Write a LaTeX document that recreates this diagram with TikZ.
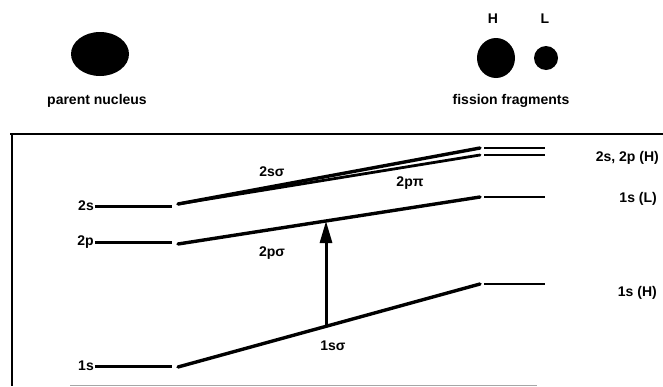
\documentclass[tikz,border=0pt]{standalone}
\usepackage{fontspec}
\setmainfont{Liberation Sans}
\usetikzlibrary{arrows.meta,shapes.geometric}
\tikzset{
  lbl/.style={font=\bfseries\fontsize{14}{16}\selectfont, inner sep=1pt},
  level/.style={line width=3pt},
  corr/.style={line width=3.4pt, line cap=round},
  frag/.style={line width=2.4pt},
  blob/.style={fill=black, draw=none},
}
\begin{document}
\begin{tikzpicture}[x=1pt, y=-1pt]
\useasboundingbox (0,0) rectangle (663,386);

% nuclei
\node[blob, ellipse, minimum width=58pt, minimum height=44pt] (parent) at (100,54) {};
\node[lbl] (parentlbl) at (97,101) {parent nucleus};
\node[blob, ellipse, minimum width=38pt, minimum height=40pt] (heavy) at (496,58) {};
\node[blob, circle, minimum size=24pt] (light) at (546,58) {};
\node[lbl] (hlbl) at (493,19) {H};
\node[lbl] (llbl) at (545,19) {L};
\node[lbl] (fraglbl) at (511,101) {fission fragments};

% frame
\draw[line width=2.4pt] (10,134) -- (663,134);
\draw[line width=2pt] (12,134) -- (12,386);
\draw[line width=1pt, gray!70] (70,385) -- (537,385);

% atomic levels of the parent
\coordinate (s2a) at (95,206);  \coordinate (s2b) at (172,206);
\coordinate (p2a) at (95,242);  \coordinate (p2b) at (172,242);
\coordinate (s1a) at (95,366);  \coordinate (s1b) at (172,366);
\draw[level] (s2a) -- (s2b);
\draw[level] (p2a) -- (p2b);
\draw[level] (s1a) -- (s1b);
\node[lbl, anchor=east] (l2s) at (s2a) {2s};
\node[lbl, anchor=east] (l2p) at (p2a) {2p};
\node[lbl, anchor=east] (l1s) at (s1a) {1s};

% molecular orbital correlation lines
\coordinate (m2s0) at (178,204); \coordinate (m2s1) at (480,148);
\coordinate (mpi0) at (178,204); \coordinate (mpi1) at (480,155);
\coordinate (mps0) at (178,244); \coordinate (mps1) at (480,197);
\coordinate (m1s0) at (178,367); \coordinate (m1s1) at (480,284);
\draw[corr] (m2s0) -- (m2s1);
\draw[corr, line width=2.8pt] (mpi0) -- (mpi1);
\draw[corr] (mps0) -- (mps1);
\draw[corr] (m1s0) -- (m1s1);
\node[lbl] (t2s) at (272,172) {2sσ};
\node[lbl] (tpi) at (410,183) {2pπ};
\node[lbl] (tps) at (272,253) {2pσ};
\node[lbl] (t1s) at (333,346) {1sσ};

% fragment levels
\coordinate (f1a) at (484,148); \coordinate (f1b) at (545,148);
\coordinate (f2a) at (484,155); \coordinate (f2b) at (545,155);
\coordinate (f3a) at (484,197); \coordinate (f3b) at (545,197);
\coordinate (f4a) at (484,284); \coordinate (f4b) at (545,284);
\draw[frag] (f1a) -- (f1b);
\draw[frag] (f2a) -- (f2b);
\draw[frag] (f3a) -- (f3b);
\draw[frag] (f4a) -- (f4b);
\node[lbl, anchor=east] (r2s) at (660,158) {2s, 2p (H)};
\node[lbl, anchor=east] (r1l) at (658,199) {1s (L)};
\node[lbl, anchor=east] (r1h) at (658,293) {1s (H)};

% excitation 1s sigma -> 2p sigma
\coordinate (exlo) at (326,326);
\coordinate (exhi) at (326,221);
\draw[line width=3pt, -{Triangle[length=22pt,width=12pt]}] (exlo) -- (exhi);
\end{tikzpicture}
\end{document}
